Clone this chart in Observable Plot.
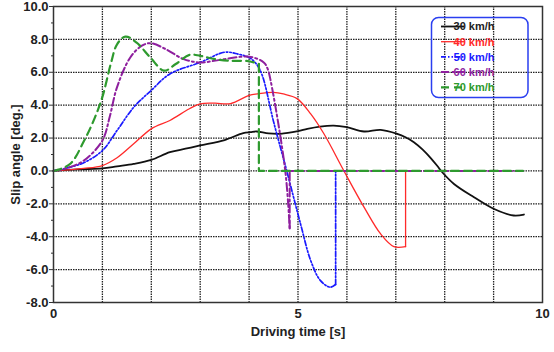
<!DOCTYPE html>
<html><head><meta charset="utf-8">
<script src="https://cdn.jsdelivr.net/npm/d3@7"></script>
<script src="https://cdn.jsdelivr.net/npm/@observablehq/plot@0.6"></script>
<style>html,body{margin:0;padding:0;background:#fff;}</style>
</head><body><div id="chart"></div>
<script>
const seriesNames = ["30 km/h","40 km/h","50 km/h","60 km/h","70 km/h"];
const seriesColors = ["#111111","#ff2a2a","#1a1aff","#8e1f9e","#2e9a2e"];
const seriesDash = [null, null, "5,2,1.5,2,1.5,2", "8,3,2,3", "8,5"];
const seriesWidth = [1.8, 1.3, 1.7, 2, 2.2];

const t30 = [0,0.5,1,1.3,1.64,2,2.38,2.7,3,3.5,3.88,4.03,4.15,4.4,4.64,5,5.19,5.45,5.73,6.0,6.35,6.69,7.03,7.2,7.37,7.55,7.71,7.85,7.95,8.19,8.6,9.0,9.41,9.62];
const v30 = [0,0.1,0.15,0.28,0.43,0.67,1.14,1.35,1.55,1.88,2.3,2.36,2.4,2.28,2.26,2.42,2.56,2.7,2.76,2.66,2.4,2.5,2.26,2.05,1.75,1.3,0.8,0.3,-0.08,-0.79,-1.6,-2.3,-2.71,-2.65];

const t40 = [0,0.62,1,1.3,1.64,2,2.38,2.78,3,3.3,3.62,4,4.17,4.5,4.7,4.98,5.26,5.53,5.94,6.35,6.69,6.96,7.2,7.2];
const v40 = [0,0.15,0.33,0.8,1.65,2.56,3.07,3.78,4.08,4.12,4.1,4.6,4.69,4.78,4.68,4.4,3.47,2.26,0,-2.2,-3.83,-4.6,-4.6,0];

const t50 = [0,0.3,0.62,1,1.3,1.64,2,2.38,3,3.5,3.78,4,4.15,4.27,4.5,4.77,5.05,5.26,5.46,5.66,5.77,5.77];
const v50 = [0,0.2,0.5,1.24,2.46,3.87,4.9,5.9,6.6,7.22,7.1,6.9,6.5,5.8,3.0,0,-3.2,-5.45,-6.67,-7.07,-6.9,0];

const t60 = [0,0.3,0.62,1,1.15,1.3,1.57,1.8,1.98,2.3,2.66,3,3.5,4,4.3,4.38,4.44,4.74,4.83,4.83,9.6];
const v60 = [0,0.2,0.63,1.85,3.3,5.1,6.9,7.6,7.77,7.4,6.8,6.6,6.8,6.95,6.6,6.2,5.5,0,-3.5,0,0];

const t70 = [0,0.07,0.35,0.62,0.82,1,1.17,1.3,1.47,1.7,1.98,2.26,2.5,2.78,3,3.3,3.6,4,4.2,4.2,9.6];
const v70 = [0,0.05,0.45,1.8,3.06,4.5,6.5,7.7,8.17,7.8,6.9,6.1,6.5,7.06,7.0,6.8,6.7,6.67,6.5,0,0];

const yMajor = [-8,-6,-4,-2,0,2,4,6,8,10];
const yMinor = [-7,-5,-3,-1,1,3,5,7,9];
const xLabels = [0,5,10];
const xGrid = [1,2,3,4,5,6,7,8,9];
const yGrid = [-6,-4,-2,0,2,4,6,8];

const times = [t30,t40,t50,t60,t70];
const vals = [v30,v40,v50,v60,v70];
// split each series at the first instantaneous jump (repeated time): smooth part + straight tail
const parts = seriesNames.map((s,i) => {
  const r = times[i].map((t,j) => ({t, v: vals[i][j], s}));
  let k = r.findIndex((d,j) => j > 0 && d.t === r[j-1].t);
  if (k < 0) return {smooth: r, tail: []};
  return {smooth: r.slice(0, k), tail: r.slice(k-1)};
});

const gridStyle = {stroke:"#222", strokeOpacity:1, strokeWidth:1.3, strokeDasharray:"1.5,1"};

const lineMarks = [];
parts.forEach((p,i) => {
  const st = {x:"t", y:"v", stroke: seriesColors[i], strokeWidth: seriesWidth[i], strokeDasharray: seriesDash[i]};
  lineMarks.push(Plot.line(p.smooth, {...st, curve: "catmull-rom"}));
  if (p.tail.length) lineMarks.push(Plot.line(p.tail, {...st, curve: "linear"}));
});

const chart = Plot.plot({
  width: 554, height: 352,
  marginLeft: 53, marginRight: 12, marginTop: 6, marginBottom: 50,
  x: {domain: [0, 10]},
  y: {domain: [-8, 10]},
  style: {fontFamily: "'Liberation Sans', Arial, sans-serif", fontWeight: "bold", fontSize: "13px", color: "#222", background: "#fff"},
  marks: [
    Plot.gridX(xGrid, gridStyle),
    Plot.gridY(yGrid, gridStyle),
    ...lineMarks,
    Plot.frame({stroke:"#333", strokeWidth:1.5}),
    Plot.axisY(yMajor, {tickSize:4, tickPadding:1, tickFormat: d => d.toFixed(1), label: "Slip angle [deg.]", labelAnchor: "center", labelArrow: "none", labelOffset: 43, stroke:"#333"}),
    Plot.axisY(yMinor, {tickSize:2, tickFormat: () => "", label: null, stroke:"#333"}),
    Plot.axisX(xLabels, {tickSize:0, tickPadding:6, label: "Driving time [s]", labelAnchor: "center", labelArrow: "none", labelOffset: 33})
  ]
});
document.getElementById("chart").append(chart);

// legend inside plot area
const svg = d3.select(chart.tagName === "svg" ? chart : chart.querySelector("svg"));
const lg = svg.append("g");
lg.append("rect").attr("x",431.5).attr("y",17.5).attr("width",96.5).attr("height",80).attr("rx",7)
  .attr("fill","none").attr("stroke","#2a3ff0").attr("stroke-width",1.5);
seriesNames.forEach((name,i) => {
  const y = 26.5 + i*15.2;
  lg.append("line").attr("x1",441).attr("x2",464).attr("y1",y).attr("y2",y)
    .attr("stroke",seriesColors[i]).attr("stroke-width",seriesWidth[i])
    .attr("stroke-dasharray",seriesDash[i]);
  lg.append("text").attr("x",474).attr("y",y).attr("dy","0.35em")
    .attr("fill", i===0 ? "#222" : seriesColors[i]).attr("font-size",11).attr("font-weight","bold")
    .text(name);
});
</script></body></html>
